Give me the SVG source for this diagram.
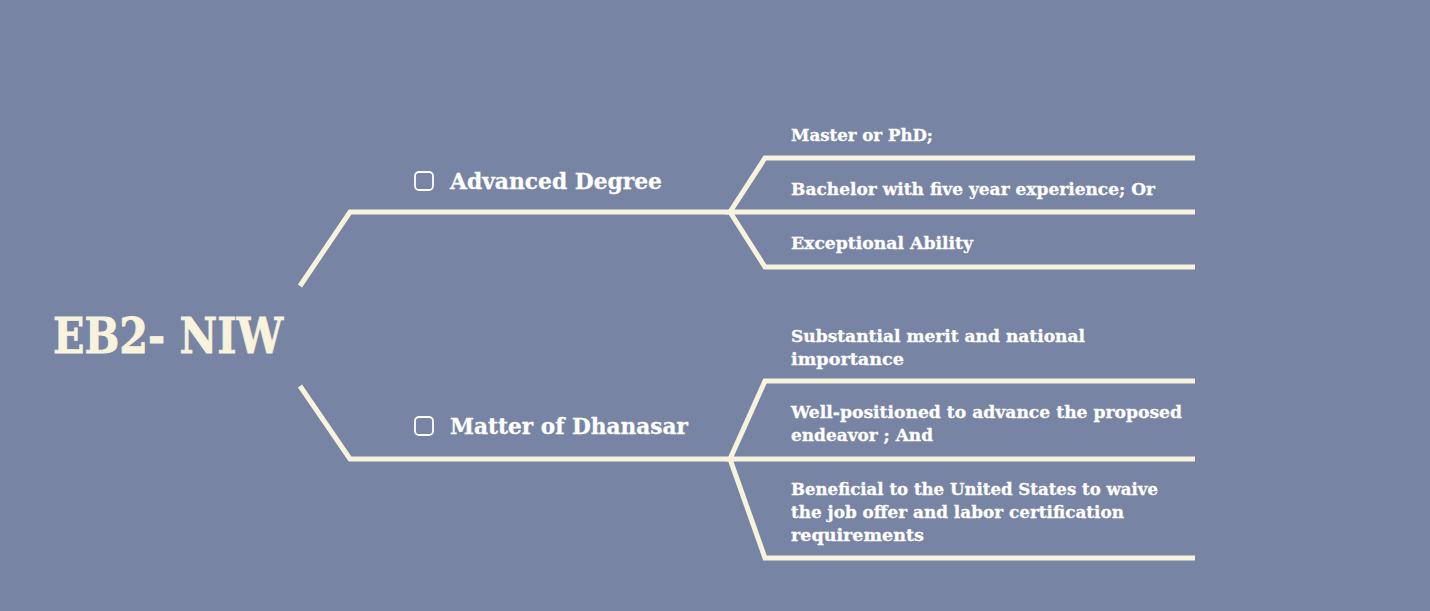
<svg xmlns="http://www.w3.org/2000/svg" width="1430" height="611" viewBox="0 0 1430 611">
<style>
.ln{fill:none;stroke:#f8f3dc;stroke-width:5;stroke-linejoin:miter}
.t{font-family:"DejaVu Serif","Liberation Serif",serif;font-weight:bold;fill:#ffffff;stroke:#ffffff;stroke-width:0.3}
.s{font-size:17.5px}
.m{font-size:23px}
.r{font-size:49px;fill:#f8f3dc;stroke:#f8f3dc;stroke-width:0.8}
.box{fill:none;stroke:#ffffff;stroke-width:1.8}
</style>
<rect width="1430" height="611" fill="#7884a4"/>
<g id="connectors">
<path class="ln" d="M300,286 L350,212 L730,212"/>
<path class="ln" d="M300,386 L350,459 L730,459"/>
<path class="ln" d="M1195,158 L765,158 L730,212 L1195,212 M730,212 L765,267 L1195,267"/>
<path class="ln" d="M1195,381 L765,381 L730,459 L1195,459 M730,459 L765,558 L1195,558"/>
</g>
<g id="root"><text class="t r" x="53" y="353" textLength="230" lengthAdjust="spacingAndGlyphs">EB2- NIW</text></g>
<g id="advanced">
<rect class="box" x="415" y="172" width="18" height="18" rx="4"/>
<text class="t m" x="450" y="189" textLength="212" lengthAdjust="spacingAndGlyphs">Advanced Degree</text>
</g>
<g id="dhanasar">
<rect class="box" x="415" y="417" width="18" height="18" rx="4"/>
<text class="t m" x="450" y="434" textLength="238" lengthAdjust="spacingAndGlyphs">Matter of Dhanasar</text>
</g>
<g id="master"><text class="t s" x="791" y="141" textLength="142" lengthAdjust="spacingAndGlyphs">Master or PhD;</text></g>
<g id="bachelor"><text class="t s" x="791" y="195" textLength="364" lengthAdjust="spacingAndGlyphs">Bachelor with five year experience; Or</text></g>
<g id="exceptional"><text class="t s" x="791" y="249" textLength="182" lengthAdjust="spacingAndGlyphs">Exceptional Ability</text></g>
<g id="merit">
<text class="t s" x="791" y="342" textLength="294" lengthAdjust="spacingAndGlyphs">Substantial merit and national</text>
<text class="t s" x="791" y="365" textLength="113" lengthAdjust="spacingAndGlyphs">importance</text>
</g>
<g id="positioned">
<text class="t s" x="791" y="418" textLength="391" lengthAdjust="spacingAndGlyphs">Well-positioned to advance the proposed</text>
<text class="t s" x="791" y="441" textLength="142" lengthAdjust="spacingAndGlyphs">endeavor ; And</text>
</g>
<g id="beneficial">
<text class="t s" x="791" y="495" textLength="367" lengthAdjust="spacingAndGlyphs">Beneficial to the United States to waive</text>
<text class="t s" x="791" y="518" textLength="333" lengthAdjust="spacingAndGlyphs">the job offer and labor certification</text>
<text class="t s" x="791" y="541" textLength="133" lengthAdjust="spacingAndGlyphs">requirements</text>
</g>
</svg>
